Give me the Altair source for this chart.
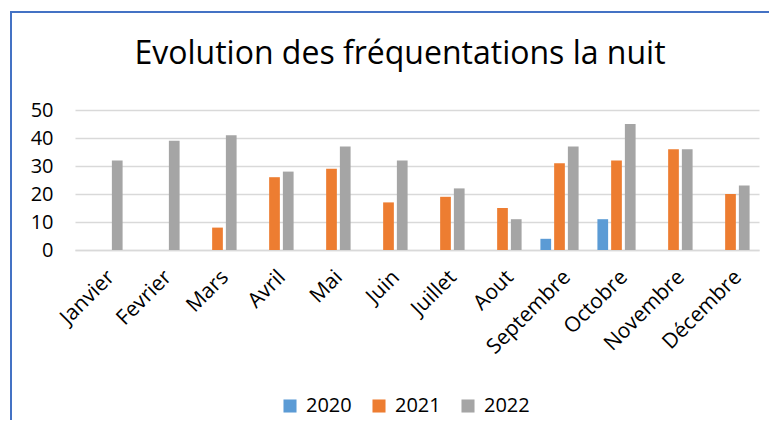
import altair as alt
import pandas as pd

months = ["Janvier", "Fevrier", "Mars", "Avril", "Mai", "Juin", "Juillet",
          "Aout", "Septembre", "Octobre", "Novembre", "Décembre"]
years = ["2020", "2021", "2022"]
v2020 = [None, None, None, None, None, None, None, None, 4, 11, None, None]
v2021 = [None, None, 8, 26, 29, 17, 19, 15, 31, 32, 36, 20]
v2022 = [32, 39, 41, 28, 37, 32, 22, 11, 37, 45, 36, 23]
colors = ["#5B9BD5", "#ED7D31", "#A5A5A5"]
y_ticks = [0, 10, 20, 30, 40, 50]

rows = []
for yr, vals in zip(years, [v2020, v2021, v2022]):
    for m, v in zip(months, vals):
        if v is not None:
            rows.append({"mois": m, "annee": yr, "valeur": v})
df = pd.DataFrame(rows)

FONT = "Open Sans"

bars = alt.Chart(df).mark_bar().encode(
    x=alt.X("mois:N", sort=months,
            scale=alt.Scale(paddingInner=0.33, paddingOuter=0.165),
            axis=alt.Axis(title=None, labelAngle=-45, ticks=False, domain=True,
                          domainColor="#D9D9D9", domainWidth=1.5,
                          labelFontSize=21, labelFont=FONT, labelColor="#000000",
                          labelPadding=16)),
    xOffset=alt.XOffset("annee:N", scale=alt.Scale(domain=years, paddingInner=0.22)),
    y=alt.Y("valeur:Q", scale=alt.Scale(domain=[0, 50]),
            axis=alt.Axis(title=None, values=y_ticks, grid=True, gridColor="#D9D9D9",
                          gridWidth=1.5, domain=False, ticks=False,
                          labelFontSize=20, labelFont=FONT, labelColor="#000000",
                          labelPadding=22)),
    color=alt.Color("annee:N", scale=alt.Scale(domain=years, range=colors),
                    legend=alt.Legend(title=None, orient="none", direction="horizontal",
                                      legendX=205, legendY=286, symbolType="square",
                                      symbolSize=170, symbolStrokeWidth=0,
                                      labelFontSize=20, labelFont=FONT,
                                      labelColor="#000000", columnPadding=17,
                                      labelOffset=6)),
)

border_left = alt.Chart(pd.DataFrame({"a": [0]})).mark_rule(
    color="#4472C4", strokeWidth=2).encode(
    x=alt.value(-64), y=alt.value(-98), y2=alt.value(330))
border_top = alt.Chart(pd.DataFrame({"a": [0]})).mark_rule(
    color="#4472C4", strokeWidth=2).encode(
    x=alt.value(-65), x2=alt.value(720), y=alt.value(-98))

chart = alt.layer(bars, border_left, border_top).properties(
    width=684, height=140,
    title=alt.TitleParams("Evolution des fréquentations la nuit", fontSize=32,
                          font=FONT, fontWeight="normal", color="#000000",
                          anchor="middle", dx=-17, offset=0,
                          baseline="alphabetic", dy=85),
    autosize=alt.AutoSizeParams(type="none"),
    padding={"left": 67, "top": 102, "right": 10, "bottom": 170},
).configure_view(stroke=None)

chart.save("out.html", embed_options={"renderer": "svg", "actions": False})
